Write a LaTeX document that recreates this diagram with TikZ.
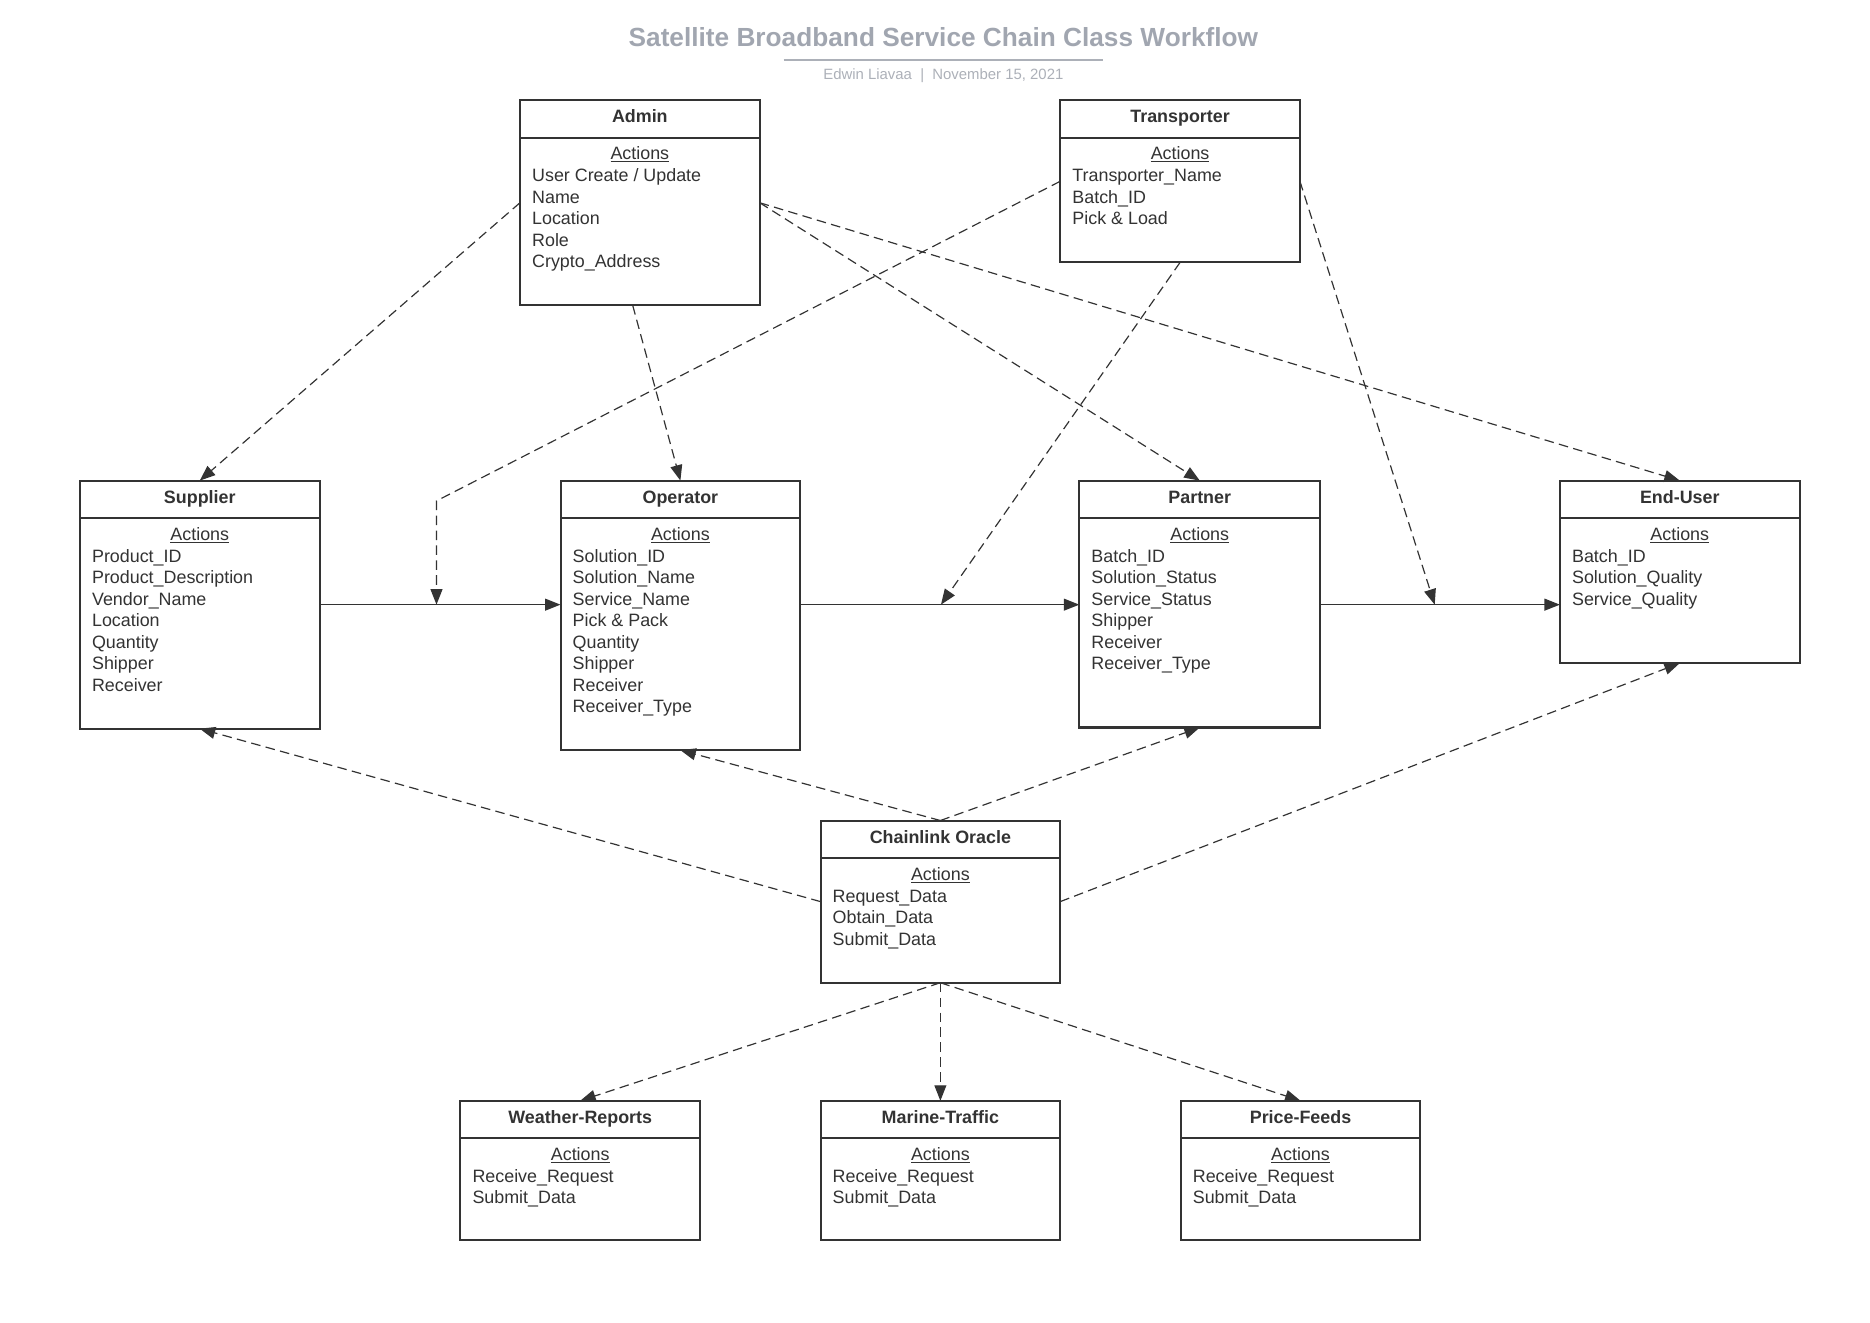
\documentclass[tikz,border=0pt]{standalone}
\usepackage{fontspec}
\setmainfont{Liberation Sans}
\usetikzlibrary{arrows.meta}
\definecolor{ink}{HTML}{333333}
\definecolor{ttl}{HTML}{A1A6B0}
\definecolor{sub}{HTML}{ACB0B8}
\tikzset{
  boxst/.style={draw=ink, line width=1.7pt, rectangle, inner sep=0pt, outer sep=0pt, fill=white},
  divline/.style={draw=ink, line width=1.7pt},
  hdr/.style={font=\fontsize{15}{18}\selectfont\bfseries, text=ink, inner sep=0pt},
  bodytxt/.style={font=\fontsize{15}{18}\selectfont, text=ink, inner sep=0pt},
  dsh/.style={draw=ink, line width=1pt, dash pattern=on 8pt off 4.5pt, -{Triangle[length=13pt,width=10pt]}},
  sol/.style={draw=ink, line width=1.1pt, -{Triangle[length=13pt,width=10pt]}},
}
\newcommand{\classbox}[7]{%
  \node[boxst, minimum width=#4pt, minimum height=#5pt, anchor=north west] (#1) at (#2,#3) {};
  \draw[divline] ({#2},{#3+31.5}) -- ({#2+#4},{#3+31.5});
  \node[hdr, anchor=base] (#1-t) at ({#2+#4/2},{#3+19}) {#6};
  \node[bodytxt, anchor=base] (#1-a) at ({#2+#4/2},{#3+50}) {\underline{Actions}};
  \node[bodytxt, anchor=base west] (#1-b) at ({#2+10},{#3+68.5}) {\begin{tabular}[t]{@{}l@{}}#7\end{tabular}};
}
\begin{document}
\begin{tikzpicture}[x=1pt,y=-1pt]
\useasboundingbox (0,0) rectangle (1568,1108.5);
% title
\node[font=\fontsize{22}{26}\selectfont\bfseries, text=ttl, inner sep=0pt, anchor=base] (title) at (791,39) {Satellite Broadband Service Chain Class Workflow};
\draw[sub, line width=1.7pt] (657,50) -- (925,50);
\node[font=\fontsize{12.5}{15}\selectfont, text=sub, inner sep=0pt, anchor=base] (subtitle) at (791,67) {Edwin Liavaa\ \ |\ \ November 15, 2021};
% boxes
\classbox{Admin}{436}{84}{201}{172}{Admin}{User Create / Update\\Name\\Location\\Role\\Crypto\_Address}
\classbox{Transporter}{889}{84}{201}{136}{Transporter}{Transporter\_Name\\Batch\_ID\\Pick \& Load}
\classbox{Supplier}{67}{403}{201}{208}{Supplier}{Product\_ID\\Product\_Description\\Vendor\_Name\\Location\\Quantity\\Shipper\\Receiver}
\classbox{Operator}{470}{403}{201}{226}{Operator}{Solution\_ID\\Solution\_Name\\Service\_Name\\Pick \& Pack\\Quantity\\Shipper\\Receiver\\Receiver\_Type}
\classbox{Partner}{905}{403}{202}{207}{Partner}{Batch\_ID\\Solution\_Status\\Service\_Status\\Shipper\\Receiver\\Receiver\_Type}
\classbox{EndUser}{1308}{403}{201}{153}{End-User}{Batch\_ID\\Solution\_Quality\\Service\_Quality}
\classbox{Oracle}{688}{688}{201}{136}{Chainlink Oracle}{Request\_Data\\Obtain\_Data\\Submit\_Data}
\classbox{Weather}{386}{923}{201}{117}{Weather-Reports}{Receive\_Request\\Submit\_Data}
\classbox{Marine}{688}{923}{201}{117}{Marine-Traffic}{Receive\_Request\\Submit\_Data}
\classbox{Price}{990}{923}{201}{117}{Price-Feeds}{Receive\_Request\\Submit\_Data}
% junction points
\coordinate (tbend) at (366,420);
\coordinate (j1) at (366,507);
\coordinate (j2) at (789,507);
\coordinate (j3) at (1203,507);
% solid flow
\draw[sol] (Supplier.east |- 0,507) -- (Operator.west |- 0,507);
\draw[sol] (Operator.east |- 0,507) -- (Partner.west |- 0,507);
\draw[sol] (Partner.east |- 0,507) -- (EndUser.west |- 0,507);
% admin
\draw[dsh] (Admin.west) -- (Supplier.north);
\draw[dsh] ([xshift=-6pt]Admin.south) -- (Operator.north);
\draw[dsh] (Admin.east) -- (Partner.north);
\draw[dsh] (Admin.east) -- (EndUser.north);
% transporter
\draw[dsh] (Transporter.west) -- (tbend) -- (j1);
\draw[dsh] (Transporter.south) -- (j2);
\draw[dsh] (Transporter.east) -- (j3);
% oracle
\draw[dsh] (Oracle.west) -- (Supplier.south);
\draw[dsh] (Oracle.north) -- (Operator.south);
\draw[dsh] (Oracle.north) -- (Partner.south);
\draw[dsh] (Oracle.east) -- (EndUser.south);
\draw[dsh] (Oracle.south) -- (Weather.north);
\draw[dsh] (Oracle.south) -- (Marine.north);
\draw[dsh] (Oracle.south) -- (Price.north);
\end{tikzpicture}
\end{document}
